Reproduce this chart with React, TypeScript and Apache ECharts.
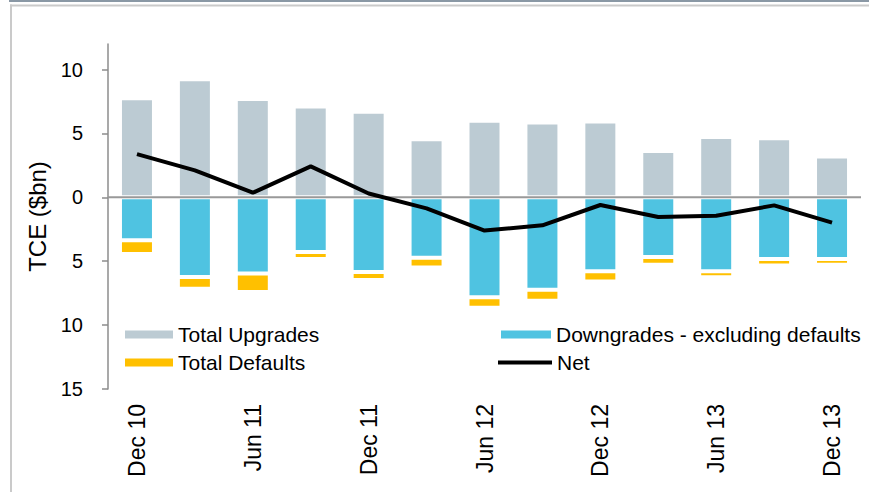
import React, { useEffect, useRef } from "react";
import * as echarts from "echarts";

const categories = [
  "Dec 10", "Mar 11", "Jun 11", "Sep 11", "Dec 11", "Mar 12", "Jun 12",
  "Sep 12", "Dec 12", "Mar 13", "Jun 13", "Sep 13", "Dec 13",
];
const upgrades = [7.75, 9.25, 7.7, 7.1, 6.7, 4.55, 6.0, 5.85, 5.93, 3.62, 4.73, 4.62, 3.2];
const downgrades = [3.36, 6.23, 5.97, 4.27, 5.84, 4.72, 7.81, 7.24, 5.78, 4.67, 5.78, 4.82, 4.82];
const defaults = [1.07, 0.93, 1.43, 0.55, 0.62, 0.78, 0.84, 0.86, 0.8, 0.6, 0.47, 0.52, 0.45];
const net = [3.38, 2.11, 0.36, 2.42, 0.3, -0.86, -2.6, -2.19, -0.6, -1.54, -1.44, -0.63, -1.98];
const yTicks = [-15, -10, -5, 0, 5, 10];
const zeroLevel = [0];

const FONT = "'Liberation Sans', Arial, sans-serif";
const C_UP = "#bccbd3";
const C_DOWN = "#4fc3e1";
const C_DEF = "#ffc000";
const C_ZERO = "#999999";

export default function App() {
  const ref = useRef<HTMLDivElement>(null);
  useEffect(() => {
    if (!ref.current) return;
    const chart = echarts.init(ref.current, undefined, { renderer: "svg" });
    const legendBase = {
      orient: "horizontal" as const,
      padding: 0,
      itemHeight: 8,
      textStyle: { fontSize: 21, color: "#000", fontFamily: FONT },
    };
    chart.setOption({
      animation: false,
      backgroundColor: "#fff",
      textStyle: { fontFamily: FONT },
      grid: { left: 108, right: 8, top: 44, bottom: 103, containLabel: false, outerBoundsMode: "none" },
      legend: [
        { ...legendBase, left: 125, top: 324, itemWidth: 48, data: [{ name: "Total Upgrades", icon: "rect", itemStyle: { borderWidth: 0 } }] },
        { ...legendBase, left: 125, top: 352, itemWidth: 48, data: [{ name: "Total Defaults", icon: "rect", itemStyle: { borderWidth: 0 } }] },
        { ...legendBase, left: 501, top: 324, itemWidth: 50, data: [{ name: "Downgrades - excluding defaults", icon: "rect", itemStyle: { borderWidth: 0 } }] },
        { ...legendBase, left: 498, top: 352, itemWidth: 54, itemHeight: 4, data: [{ name: "Net", icon: "rect", itemStyle: { color: "#000", borderWidth: 0 } }] },
      ],
      xAxis: {
        type: "category",
        data: categories,
        position: "bottom",
        axisLine: { show: false, onZero: false },
        axisTick: { show: false },
        axisLabel: { interval: 1, rotate: 90, margin: 15, fontSize: 23, color: "#000", fontFamily: FONT },
        splitLine: { show: false },
      },
      yAxis: {
        type: "value",
        min: -15,
        max: 12,
        interval: 5,
        name: "TCE ($bn)",
        nameLocation: "middle",
        nameGap: 56,
        nameTextStyle: { fontSize: 24, color: "#000", fontFamily: FONT },
        axisLine: { show: true, onZero: false, lineStyle: { color: "#8c8c8c", width: 1.5 } },
        axisTick: { show: true, length: 6, customValues: yTicks, lineStyle: { color: "#8c8c8c", width: 1.5 } },
        axisLabel: {
          customValues: yTicks,
          margin: 25,
          fontSize: 20,
          color: "#000",
          fontFamily: FONT,
          formatter: (v: number) => String(Math.abs(v)),
        },
        splitLine: { show: false },
      },
      series: [
        {
          name: "Total Upgrades",
          type: "bar",
          stack: "a",
          barWidth: 34,
          data: upgrades,
          itemStyle: { color: C_UP, borderColor: "#fff", borderWidth: 2 },
        },
        {
          name: "Downgrades - excluding defaults",
          type: "bar",
          stack: "a",
          barWidth: 34,
          data: downgrades.map((v) => -v),
          itemStyle: { color: C_DOWN, borderColor: "#fff", borderWidth: 2 },
        },
        {
          name: "Total Defaults",
          type: "bar",
          stack: "a",
          barWidth: 34,
          data: defaults.map((v) => -v),
          itemStyle: { color: C_DEF, borderColor: "#fff", borderWidth: 2 },
        },
        {
          name: "zero",
          type: "custom",
          z: 5,
          silent: true,
          data: zeroLevel.map((v) => [0, v]),
          encode: { x: 0, y: 1 },
          renderItem: (params: any, api: any) => {
            const y = api.coord([0, api.value(1)])[1];
            const cs = params.coordSys;
            return {
              type: "line",
              shape: { x1: cs.x, y1: y, x2: cs.x + cs.width, y2: y },
              style: { stroke: C_ZERO, lineWidth: 2 },
            };
          },
        },
        {
          name: "Net",
          type: "line",
          data: net,
          z: 10,
          symbol: "none",
          color: "#000",
          lineStyle: { color: "#000", width: 4 },
          itemStyle: { color: "#000" },
        },
      ],
      graphic: [
        { type: "rect", silent: true, shape: { x: 9, y: 0, width: 860, height: 2 }, style: { fill: "#8a98a5" } },
        { type: "rect", silent: true, shape: { x: 10, y: 4.5, width: 859, height: 2 }, style: { fill: "#cacaca" } },
        { type: "rect", silent: true, shape: { x: 10, y: 4.5, width: 2, height: 488 }, style: { fill: "#cacaca" } },
      ],
    });
    return () => chart.dispose();
  }, []);
  return (
    <div
      ref={ref}
      style={{ position: "absolute", left: 0, top: 0, width: 869, height: 492 }}
    />
  );
}
